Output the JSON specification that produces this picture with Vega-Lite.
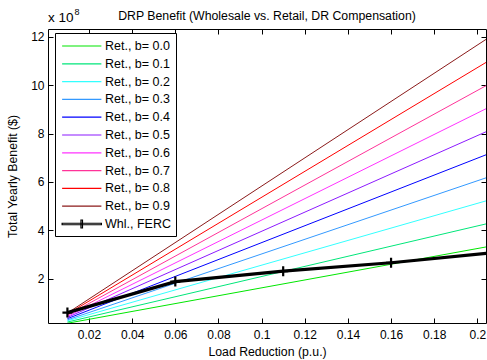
{
  "$schema": "https://vega.github.io/schema/vega-lite/v6.json",
  "width": 438,
  "height": 294,
  "autosize": "none",
  "padding": {"left": 48, "top": 29, "right": 1, "bottom": 37},
  "title": {"text": "DRP Benefit (Wholesale vs. Retail, DR Compensation)", "fontSize": 12.3, "fontWeight": "normal", "color": "black", "anchor": "middle", "baseline": "alphabetic", "offset": 10, "dy": 34.5},
  "config": {
    "font": "Liberation Sans",
    "view": {"stroke": "black", "strokeWidth": 1},
    "axis": {"grid": false, "domain": false, "tickColor": "black", "labelColor": "black", "titleColor": "black", "labelFontSize": 12, "titleFontSize": 12.3, "titleFontWeight": "normal", "tickSize": -5, "tickWidth": 1},
    "legend": {"symbolType": "M-0.84,0H4.77", "symbolSize": 196, "symbolStrokeWidth": 1.2, "labelFontSize": 12.5, "labelColor": "black", "fillColor": "white", "strokeColor": "black", "padding": 5, "rowPadding": 2.8, "labelOffset": 29, "labelLimit": 300}
  },
  "datasets": {
    "ret": [
      {"series": "Ret., b= 0.0", "x": 0.01, "y": 0.16}, {"series": "Ret., b= 0.0", "x": 0.21, "y": 3.41},
      {"series": "Ret., b= 0.1", "x": 0.01, "y": 0.21}, {"series": "Ret., b= 0.1", "x": 0.21, "y": 4.39},
      {"series": "Ret., b= 0.2", "x": 0.01, "y": 0.26}, {"series": "Ret., b= 0.2", "x": 0.21, "y": 5.37},
      {"series": "Ret., b= 0.3", "x": 0.01, "y": 0.30}, {"series": "Ret., b= 0.3", "x": 0.21, "y": 6.35},
      {"series": "Ret., b= 0.4", "x": 0.01, "y": 0.35}, {"series": "Ret., b= 0.4", "x": 0.21, "y": 7.33},
      {"series": "Ret., b= 0.5", "x": 0.01, "y": 0.40}, {"series": "Ret., b= 0.5", "x": 0.21, "y": 8.31},
      {"series": "Ret., b= 0.6", "x": 0.01, "y": 0.44}, {"series": "Ret., b= 0.6", "x": 0.21, "y": 9.29},
      {"series": "Ret., b= 0.7", "x": 0.01, "y": 0.49}, {"series": "Ret., b= 0.7", "x": 0.21, "y": 10.27},
      {"series": "Ret., b= 0.8", "x": 0.01, "y": 0.54}, {"series": "Ret., b= 0.8", "x": 0.21, "y": 11.26},
      {"series": "Ret., b= 0.9", "x": 0.01, "y": 0.58}, {"series": "Ret., b= 0.9", "x": 0.21, "y": 12.24}
    ],
    "whl": [
      {"series": "Whl., FERC", "x": 0.01, "y": 0.6},
      {"series": "Whl., FERC", "x": 0.06, "y": 1.88},
      {"series": "Whl., FERC", "x": 0.11, "y": 2.31},
      {"series": "Whl., FERC", "x": 0.16, "y": 2.66},
      {"series": "Whl., FERC", "x": 0.21, "y": 3.1}
    ],
    "exp": [{"t": "x 10", "s": "8"}]
  },
  "layer": [
    {
      "data": {"name": "ret"},
      "mark": {"type": "line", "strokeWidth": 1, "clip": true},
      "encoding": {
        "x": {"field": "x", "type": "quantitative", "scale": {"domain": [0.001, 0.204], "nice": false, "zero": false},
              "axis": {"orient": "bottom", "title": "Load Reduction (p.u.)", "values": [0.02, 0.04, 0.06, 0.08, 0.1, 0.12, 0.14, 0.16, 0.18, 0.2], "format": "~g", "labelPadding": 11, "titlePadding": 5}},
        "y": {"field": "y", "type": "quantitative", "scale": {"domain": [0.17, 12.32], "nice": false, "zero": false},
              "axis": {"orient": "left", "title": "Total Yearly Benefit ($)", "values": [2, 4, 6, 8, 10, 12], "labelPadding": 9, "titlePadding": 11}},
        "color": {"field": "series", "type": "nominal",
          "scale": {"domain": ["Ret., b= 0.0", "Ret., b= 0.1", "Ret., b= 0.2", "Ret., b= 0.3", "Ret., b= 0.4", "Ret., b= 0.5", "Ret., b= 0.6", "Ret., b= 0.7", "Ret., b= 0.8", "Ret., b= 0.9", "Whl., FERC"],
                    "range": ["#00e600", "#00e67a", "#33ffff", "#3399ff", "#0000ff", "#8c1aff", "#ff33ff", "#ff3399", "#ff0000", "#8b1a1a", "#000000"]},
          "legend": {"orient": "none", "legendX": 7, "legendY": 4, "title": null, "symbolType": "M-0.84,0H4.77", "symbolSize": 196,
                     "encode": {"symbols": {"update": {"shape": {"signal": "datum.value === 'Whl., FERC' ? 'M-0.84,-0.11H4.77V0.11H-0.84ZM1.85,-0.57H2.07V0.57H1.85Z' : 'M-0.84,0H4.77'"}}}}}}
      }
    },
    {
      "data": {"name": "whl"},
      "mark": {"type": "line", "strokeWidth": 3.2, "clip": true},
      "encoding": {
        "x": {"field": "x", "type": "quantitative", "axis": {"orient": "top", "labels": false, "title": null, "values": [0.02, 0.04, 0.06, 0.08, 0.1, 0.12, 0.14, 0.16, 0.18, 0.2]}},
        "y": {"field": "y", "type": "quantitative", "axis": {"orient": "right", "labels": false, "title": null, "values": [2, 4, 6, 8, 10, 12]}},
        "color": {"field": "series", "type": "nominal", "legend": {"orient": "none", "legendX": 7, "legendY": 4, "title": null, "symbolType": "M-0.84,0H4.77", "symbolSize": 196}}
      }
    },
    {
      "data": {"name": "whl"},
      "mark": {"type": "point", "shape": "M-1,0H1M0,-1V1", "size": 100, "strokeWidth": 2.2, "filled": false, "stroke": "black", "opacity": 1, "clip": true},
      "encoding": {
        "x": {"field": "x", "type": "quantitative", "axis": null},
        "y": {"field": "y", "type": "quantitative", "axis": null}
      }
    },
    {
      "data": {"name": "exp"},
      "mark": {"type": "text", "align": "left", "baseline": "alphabetic", "fontSize": 13.5, "color": "black", "dy": -7},
      "encoding": {
        "x": {"datum": 0.001, "type": "quantitative", "axis": null},
        "y": {"datum": 12.32, "type": "quantitative", "axis": null},
        "text": {"field": "t"}
      }
    },
    {
      "data": {"name": "exp"},
      "mark": {"type": "text", "align": "left", "baseline": "alphabetic", "fontSize": 9, "color": "black", "dx": 26.5, "dy": -14},
      "encoding": {
        "x": {"datum": 0.001, "type": "quantitative", "axis": null},
        "y": {"datum": 12.32, "type": "quantitative", "axis": null},
        "text": {"field": "s"}
      }
    }
  ]
}
